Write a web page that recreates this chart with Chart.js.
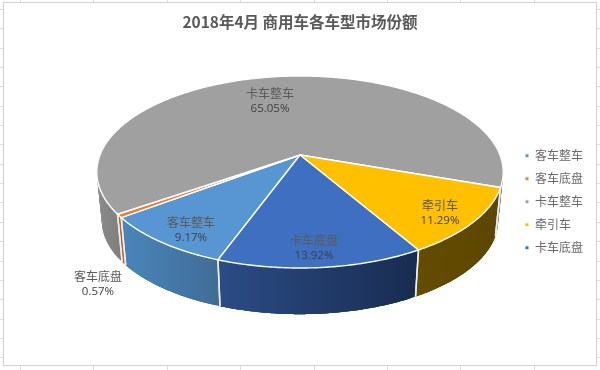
<!DOCTYPE html>
<html><head><meta charset="utf-8">
<style>html,body{margin:0;padding:0;background:#fff}#w{width:600px;height:370px;position:relative}</style>
<script src="https://cdn.jsdelivr.net/npm/chart.js@4/dist/chart.umd.min.js"></script>
</head><body><div id="w"><canvas id="c" width="600" height="370"></canvas></div>
<script>
const titleText = '2018年4月 商用车各车型市场份额';
const categories = ['客车整车','客车底盘','卡车整车','牵引车','卡车底盘'];
const shares = [9.17,0.57,65.05,11.29,13.92];
const colors = ['#5796d3','#ed7d31','#a0a0a0','#ffc000','#3f6fc0'];
const wallColors = [['#4a86bb','#406c96'],['#c4601c','#c4601c'],['#8c8c8c','#7e7e7e'],['#644c00','#5c4600'],['#2c4c86','#182c50']];
const labelAnchors = [[191,222],[98,276],[270,93],[440,205],[314,240]];
const FONT = '"Noto Sans CJK SC","Noto Sans",sans-serif';
const G = {cx:300, cy:155, a:200, b:93, p:-0.177, s2:0.975, cy2:204};
function proj(phi, lower){
  const den = 1 + G.p*Math.sin(phi), s = lower?G.s2:1, cy = lower?G.cy2:G.cy;
  return [G.cx + s*G.a*Math.cos(phi)/den, cy + s*G.b*Math.sin(phi)/den];
}
function rim(a0,a1){const n=Math.max(2,Math.ceil(Math.abs(a1-a0)/0.01)),o=[];for(let i=0;i<=n;i++)o.push(a0+(a1-a0)*i/n);return o;}
function runs(list){const out=[];let cur=[];list.forEach(t=>{if(Math.sin(t)>-0.25)cur.push(t);else{if(cur.length>1)out.push(cur);cur=[];}});if(cur.length>1)out.push(cur);return out;}
const sheet = {id:'sheet', beforeDraw(ch){
  const c=ch.ctx; c.save(); c.fillStyle='#fff'; c.fillRect(0,0,600,370);
  c.strokeStyle='#dcdcdc'; c.lineWidth=1; c.beginPath();
  for(let x=20;x<600;x+=73.4){c.moveTo(Math.round(x)+.5,0);c.lineTo(Math.round(x)+.5,370);}
  for(let y=9;y<370;y+=19.35){c.moveTo(0,Math.round(y)+.5);c.lineTo(600,Math.round(y)+.5);}
  c.stroke();
  c.fillStyle='#fff'; c.fillRect(3,2,594,364);
  c.strokeStyle='#d2d2d2'; c.strokeRect(3.5,2.5,593,363);
  c.restore();
}};
const pie3d = {id:'pie3d', beforeDatasetsDraw(ch){
  const c=ch.ctx, arcs=ch.getDatasetMeta(0).data; c.save();
  arcs.forEach((el,i)=>{
    const p=el.getProps(['startAngle','endAngle'],true);
    runs(rim(p.startAngle,p.endAngle)).forEach(as=>{
      const top=as.map(t=>proj(t,false)), bot=as.map(t=>proj(t,true));
      const xs=top.concat(bot).map(q=>q[0]);
      const g=c.createLinearGradient(Math.min(...xs),0,Math.max(...xs),0);
      g.addColorStop(0,wallColors[i][0]); g.addColorStop(1,wallColors[i][1]);
      c.fillStyle=g;
      for(let k=0;k<top.length-1;k+=2){
        const e=Math.min(k+6,top.length-1);
        c.beginPath(); c.moveTo(top[k][0],top[k][1]);
        for(let m=k+1;m<=e;m++) c.lineTo(top[m][0],top[m][1]);
        for(let m=e;m>=k;m--) c.lineTo(bot[m][0],bot[m][1]);
        c.closePath(); c.fill();
      }
    });
  });
  c.strokeStyle='#e8eef4'; c.lineWidth=1.5;
  arcs.forEach(el=>{
    const p=el.getProps(['startAngle','endAngle'],true);
    [p.startAngle,p.endAngle].forEach(t=>{ if(Math.sin(t)>0){
      const a=proj(t,false),b=proj(t,true); c.beginPath(); c.moveTo(a[0],a[1]); c.lineTo(b[0],b[1]); c.stroke(); }});
  });
  arcs.forEach((el,i)=>{
    const p=el.getProps(['startAngle','endAngle'],true);
    c.beginPath(); c.moveTo(G.cx,G.cy);
    rim(p.startAngle,p.endAngle).forEach(t=>{const q=proj(t,false);c.lineTo(q[0],q[1]);});
    c.closePath(); c.fillStyle=colors[i]; c.fill();
    c.strokeStyle='#fff'; c.lineWidth=1.4; c.lineJoin='round'; c.stroke();
  });
  c.restore();
  return false;
}, afterDraw(ch){
  const c=ch.ctx; c.save(); c.textAlign='center'; c.textBaseline='middle';
  categories.forEach((n,i)=>{
    const [x,y]=labelAnchors[i];
    c.fillStyle='#5a5a5a'; c.font='12px '+FONT; c.fillText(n,x,y);
    c.fillStyle='#404040'; c.font='11.5px "Open Sans","Noto Sans",sans-serif'; c.fillText(shares[i].toFixed(2)+'%',x,y+16);
  });
  c.restore();
}};
new Chart(document.getElementById('c'),{
  type:'pie',
  data:{labels:categories,datasets:[{data:shares,backgroundColor:colors,borderColor:'#fff',borderWidth:1}]},
  options:{responsive:false,animation:false,rotation:200,
    layout:{padding:{top:13,right:7,bottom:0,left:7}},
    plugins:{
      title:{display:true,text:titleText,color:'#595959',font:{family:FONT,size:15.5,weight:'bold'},padding:{top:0,bottom:2}},
      tooltip:{enabled:false},
      legend:{position:'right',fullSize:false,labels:{boxWidth:4,boxHeight:4,padding:11,color:'#6a6a6a',font:{family:FONT,size:12}}}
    }},
  plugins:[sheet,pie3d]
});
</script></body></html>
